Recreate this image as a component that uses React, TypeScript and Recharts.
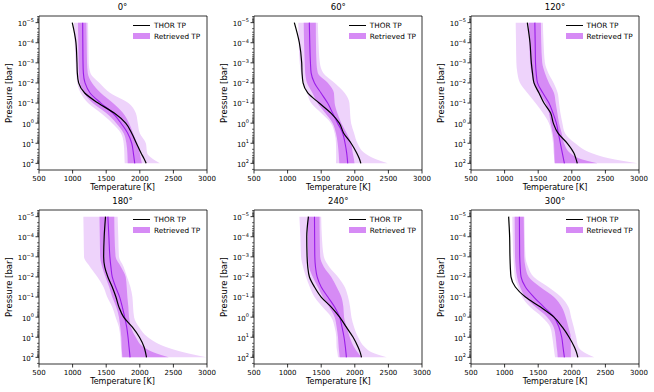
import React from "react";
import { Area, ComposedChart, Line, ReferenceArea, XAxis, YAxis } from "recharts";

// pressure levels [bar] shared by every profile
const PRESSURE = [1e-5, 1e-4, 1e-3, 3.16e-3, 1e-2, 3.16e-2, 0.1, 0.316, 1, 3.16, 10, 31.6, 56.2, 100];

const TEMP_TICKS = [500, 1000, 1500, 2000, 2500, 3000];
const P_MAJOR = [1e-5, 1e-4, 1e-3, 1e-2, 1e-1, 1, 10, 100];
const P_DOMAIN: [number, number] = [4.68e-6, 213.8];

// 0 deg
const THOR_0 = [995, 1050, 1065, 1070, 1090, 1180, 1380, 1620, 1790, 1880, 1950, 2020, 2060, 2095];
const MED_0 = [1150, 1152, 1155, 1160, 1185, 1260, 1420, 1600, 1720, 1820, 1880, 1905, 1915, 1925];
const S1LO_0 = [1080, 1085, 1090, 1095, 1110, 1170, 1300, 1500, 1650, 1760, 1800, 1815, 1818, 1820];
const S1HI_0 = [1205, 1210, 1215, 1225, 1290, 1420, 1600, 1750, 1840, 1900, 1960, 2000, 2015, 2030];
const S2LO_0 = [1020, 1030, 1045, 1055, 1070, 1120, 1230, 1420, 1590, 1720, 1760, 1770, 1772, 1775];
const S2HI_0 = [1230, 1235, 1240, 1265, 1400, 1560, 1830, 1940, 1970, 2000, 2090, 2110, 2180, 2300];

// 60 deg
const THOR_60 = [1100, 1175, 1210, 1215, 1230, 1300, 1470, 1645, 1770, 1835, 1945, 2030, 2065, 2090];
const MED_60 = [1323, 1330, 1340, 1350, 1400, 1497, 1596, 1670, 1745, 1820, 1855, 1880, 1888, 1895];
const S1LO_60 = [1240, 1245, 1255, 1262, 1290, 1370, 1445, 1560, 1670, 1720, 1745, 1760, 1765, 1770];
const S1HI_60 = [1420, 1422, 1430, 1450, 1600, 1690, 1700, 1740, 1800, 1880, 1945, 1970, 1985, 1995];
const S2LO_60 = [1160, 1165, 1180, 1200, 1240, 1290, 1350, 1500, 1645, 1700, 1720, 1722, 1722, 1720];
const S2HI_60 = [1450, 1460, 1480, 1530, 1700, 1850, 1920, 1930, 1945, 1990, 2040, 2150, 2280, 2490];

// 120 deg
const THOR_120 = [1338, 1378, 1398, 1415, 1437, 1512, 1586, 1685, 1725, 1795, 1933, 2033, 2060, 2082];
const MED_120 = [1450, 1455, 1460, 1470, 1490, 1570, 1660, 1720, 1770, 1800, 1830, 1860, 1875, 1890];
const S1LO_120 = [1360, 1370, 1380, 1400, 1435, 1510, 1610, 1660, 1685, 1715, 1735, 1740, 1742, 1745];
const S1HI_120 = [1540, 1545, 1560, 1600, 1660, 1735, 1760, 1785, 1810, 1850, 1885, 1980, 2100, 2380];
const S2LO_120 = [1165, 1170, 1175, 1190, 1230, 1340, 1460, 1570, 1660, 1700, 1720, 1730, 1740, 1750];
const S2HI_120 = [1570, 1580, 1600, 1650, 1730, 1790, 1810, 1830, 1860, 1900, 2050, 2300, 2550, 2980];

// 180 deg
const THOR_180 = [1490, 1470, 1462, 1478, 1525, 1590, 1645, 1690, 1760, 1890, 1995, 2065, 2085, 2100];
const MED_180 = [1525, 1540, 1555, 1570, 1590, 1640, 1700, 1740, 1775, 1805, 1825, 1840, 1848, 1855];
const S1LO_180 = [1400, 1405, 1410, 1440, 1490, 1545, 1590, 1650, 1690, 1710, 1725, 1730, 1735, 1740];
const S1HI_180 = [1620, 1625, 1640, 1720, 1790, 1805, 1815, 1830, 1840, 1870, 1940, 2060, 2200, 2430];
const S2LO_180 = [1160, 1165, 1170, 1260, 1370, 1460, 1515, 1590, 1640, 1690, 1710, 1720, 1725, 1730];
const S2HI_180 = [1670, 1680, 1690, 1760, 1810, 1860, 1890, 1900, 1915, 1990, 2120, 2400, 2650, 2990];

// 240 deg
const THOR_240 = [1310, 1285, 1290, 1300, 1325, 1400, 1500, 1650, 1775, 1875, 1975, 2050, 2080, 2100];
const MED_240 = [1400, 1402, 1405, 1415, 1440, 1500, 1600, 1700, 1775, 1810, 1840, 1860, 1868, 1875];
const S1LO_240 = [1300, 1302, 1305, 1320, 1375, 1450, 1525, 1620, 1700, 1730, 1750, 1760, 1768, 1775];
const S1HI_240 = [1475, 1478, 1485, 1540, 1650, 1730, 1800, 1830, 1840, 1880, 1925, 1990, 2040, 2100];
const S2LO_240 = [1175, 1190, 1200, 1230, 1275, 1330, 1400, 1520, 1650, 1700, 1725, 1728, 1740, 1750];
const S2HI_240 = [1500, 1510, 1540, 1620, 1750, 1850, 1900, 1930, 1950, 1990, 2050, 2150, 2250, 2475];

// 300 deg
const THOR_300 = [1060, 1075, 1080, 1085, 1095, 1160, 1310, 1535, 1735, 1860, 1960, 2040, 2070, 2090];
const MED_300 = [1220, 1222, 1225, 1232, 1245, 1310, 1435, 1585, 1735, 1810, 1850, 1870, 1880, 1890];
const S1LO_300 = [1150, 1152, 1155, 1165, 1185, 1230, 1310, 1460, 1635, 1730, 1760, 1775, 1785, 1790];
const S1HI_300 = [1285, 1288, 1292, 1310, 1360, 1530, 1735, 1850, 1910, 1950, 1985, 1985, 1985, 1985];
const S2LO_300 = [1115, 1120, 1130, 1140, 1150, 1200, 1260, 1380, 1560, 1680, 1710, 1730, 1740, 1750];
const S2HI_300 = [1295, 1300, 1310, 1350, 1435, 1650, 1840, 1950, 1990, 2030, 2065, 2100, 2180, 2335];

const FONT = "'DejaVu Sans', sans-serif";
const LIGHT = "#eed3fb";
const DARK = "#d68bf5";
const MEDIAN = "#9a1ee8";

const PLOT_W = 168;
const PLOT_H = 154;
const COL_X = [38.5, 254.3, 471];
const ROW_Y = [16, 210];

// minor log ticks 2..9 x 10^n
const P_MINOR: number[] = [];
for (let e = -6; e <= 2; e++) {
  for (let k = 2; k <= 9; k++) {
    const v = k * Math.pow(10, e);
    if (v > P_DOMAIN[0] && v < P_DOMAIN[1]) P_MINOR.push(v);
  }
}

const PANELS = [
  { title: "0°", thor: THOR_0, med: MED_0, s1lo: S1LO_0, s1hi: S1HI_0, s2lo: S2LO_0, s2hi: S2HI_0 },
  { title: "60°", thor: THOR_60, med: MED_60, s1lo: S1LO_60, s1hi: S1HI_60, s2lo: S2LO_60, s2hi: S2HI_60 },
  { title: "120°", thor: THOR_120, med: MED_120, s1lo: S1LO_120, s1hi: S1HI_120, s2lo: S2LO_120, s2hi: S2HI_120 },
  { title: "180°", thor: THOR_180, med: MED_180, s1lo: S1LO_180, s1hi: S1HI_180, s2lo: S2LO_180, s2hi: S2HI_180 },
  { title: "240°", thor: THOR_240, med: MED_240, s1lo: S1LO_240, s1hi: S1HI_240, s2lo: S2LO_240, s2hi: S2HI_240 },
  { title: "300°", thor: THOR_300, med: MED_300, s1lo: S1LO_300, s1hi: S1HI_300, s2lo: S2LO_300, s2hi: S2HI_300 },
];

function PressureTick(props: any) {
  const { x, y, payload } = props;
  const lg = Math.log10(payload.value);
  const exp = Math.round(lg);
  const major = Math.abs(lg - exp) < 1e-6;
  return (
    <g>
      <line x1={x - (major ? 3.5 : 2)} x2={x} y1={y} y2={y} stroke="#000" strokeWidth={major ? 0.8 : 0.6} />
      {major && (
        <text x={x - 5} y={y + 3.4} textAnchor="end" fontSize={7} fontFamily={FONT} fill="#000" stroke="none">
          10
          <tspan dy={-3.6} fontSize={5}>
            {exp < 0 ? "−" : ""}
            {Math.abs(exp)}
          </tspan>
        </text>
      )}
    </g>
  );
}

function TempTick(props: any) {
  const { x, y, payload } = props;
  return (
    <g>
      <line x1={x} x2={x} y1={y} y2={y + 3.5} stroke="#000" strokeWidth={0.8} />
      <text x={x} y={y + 10.5} textAnchor="middle" fontSize={7} fontFamily={FONT} fill="#000" stroke="none">
        {payload.value}
      </text>
    </g>
  );
}

function Panel({ panel, left, top }: { panel: (typeof PANELS)[number]; left: number; top: number }) {
  const rows = PRESSURE.map((p, i) => ({
    p,
    thor: panel.thor[i],
    med: panel.med[i],
    s1: [panel.s1lo[i], panel.s1hi[i]],
    s2: [panel.s2lo[i], panel.s2hi[i]],
  }));
  const yAxisW = 36;
  return (
    <>
      <div style={{ position: "absolute", left: left - yAxisW, top: top - 16 }}>
        <ComposedChart
          layout="vertical"
          width={yAxisW + PLOT_W + 14}
          height={16 + PLOT_H + 24}
          data={rows}
          margin={{ top: 16, right: 14, left: 0, bottom: 0 }}
        >
          <XAxis
            type="number"
            domain={[500, 3000]}
            ticks={TEMP_TICKS}
            allowDataOverflow
            axisLine={false}
            tickLine={false}
            tickSize={0}
            tickMargin={0}
            height={24}
            interval={0}
            tick={<TempTick />}
          />
          <YAxis
            type="number"
            dataKey="p"
            scale="log"
            domain={P_DOMAIN}
            allowDataOverflow
            ticks={[...P_MAJOR, ...P_MINOR]}
            interval={0}
            axisLine={false}
            tickLine={false}
            tickSize={0}
            tickMargin={0}
            width={yAxisW}
            tick={<PressureTick />}
          />
          <Area dataKey="s2" type="monotone" fill={LIGHT} fillOpacity={1} stroke="none" isAnimationActive={false} />
          <Area dataKey="s1" type="monotone" fill={DARK} fillOpacity={1} stroke="none" isAnimationActive={false} />
          <Line dataKey="med" type="monotone" stroke={MEDIAN} strokeWidth={1.1} dot={false} isAnimationActive={false} />
          <Line dataKey="thor" type="monotone" stroke="#000" strokeWidth={1.2} dot={false} isAnimationActive={false} />
          <ReferenceArea
            x1={500}
            x2={3000}
            y1={P_DOMAIN[0]}
            y2={P_DOMAIN[1]}
            fill="none"
            stroke="#000"
            strokeWidth={0.8}
            ifOverflow="visible"
          />
        </ComposedChart>
      </div>
      {/* title */}
      <div style={{ position: "absolute", left, top: top - 14, width: PLOT_W, textAlign: "center", fontSize: 8.5, lineHeight: "10px" }}>
        {panel.title}
      </div>
      {/* x label */}
      <div style={{ position: "absolute", left, top: top + PLOT_H + 13, width: PLOT_W, textAlign: "center", fontSize: 8, lineHeight: "10px" }}>
        Temperature [K]
      </div>
      {/* y label */}
      <div
        style={{
          position: "absolute",
          left: left - 30 - 40,
          top: top + PLOT_H / 2 - 5,
          width: 80,
          textAlign: "center",
          fontSize: 8.5,
          lineHeight: "10px",
          transform: "rotate(-90deg)",
        }}
      >
        Pressure [bar]
      </div>
      {/* legend */}
      <div style={{ position: "absolute", left: left + 94.5, top: top + 9, width: 17, height: 0, borderTop: "1.3px solid #000" }} />
      <div style={{ position: "absolute", left: left + 115.5, top: top + 5, fontSize: 7.3, lineHeight: "9px" }}>THOR TP</div>
      <div style={{ position: "absolute", left: left + 94.5, top: top + 17, width: 17, height: 6, background: DARK }} />
      <div style={{ position: "absolute", left: left + 115.5, top: top + 15.5, fontSize: 7.3, lineHeight: "9px" }}>Retrieved TP</div>
    </>
  );
}

export default function App() {
  return (
    <div
      style={{
        position: "absolute",
        left: 0,
        top: 0,
        width: 654,
        height: 392,
        background: "#fff",
        overflow: "hidden",
        fontFamily: FONT,
        color: "#000",
      }}
    >
      {PANELS.map((panel, i) => (
        <Panel key={panel.title} panel={panel} left={COL_X[i % 3]} top={ROW_Y[Math.floor(i / 3)]} />
      ))}
    </div>
  );
}
